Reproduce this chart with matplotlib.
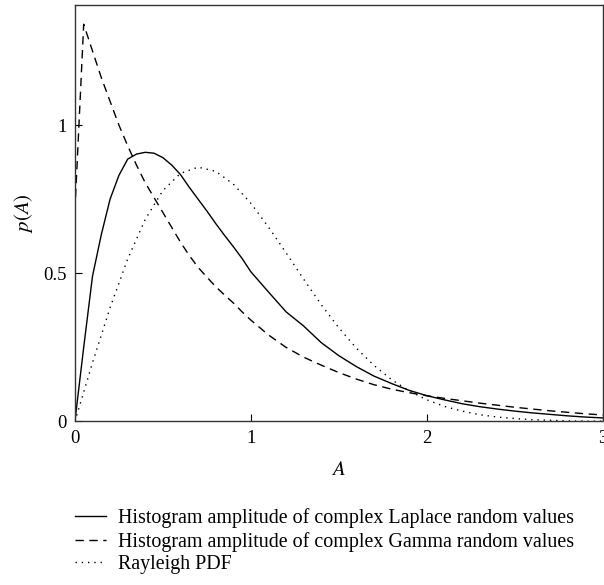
import numpy as np
import matplotlib.pyplot as plt

plt.rcParams["font.family"] = ["Liberation Serif", "DejaVu Serif"]
plt.rcParams["mathtext.fontset"] = "stix"

# Histogram amplitude of complex Laplace random values
laplace_a = [0.0, 0.05, 0.1, 0.15, 0.2, 0.25, 0.3, 0.35, 0.4, 0.45, 0.5, 0.55,
             0.6, 0.65, 0.7, 0.75, 0.8, 0.85, 0.9, 0.95, 1.0, 1.1, 1.2, 1.3,
             1.4, 1.5, 1.6, 1.7, 1.8, 1.9, 2.0, 2.1, 2.2, 2.3, 2.4, 2.5, 2.6,
             2.7, 2.8, 2.9, 3.0]
laplace_p = [0.0, 0.25, 0.49, 0.63, 0.75, 0.83, 0.885, 0.902, 0.908, 0.905,
             0.89, 0.865, 0.833, 0.79, 0.75, 0.71, 0.668, 0.628, 0.59, 0.55,
             0.505, 0.437, 0.37, 0.322, 0.266, 0.222, 0.185, 0.153, 0.128,
             0.105, 0.087, 0.073, 0.06, 0.05, 0.042, 0.035, 0.029, 0.024,
             0.019, 0.015, 0.012]

# Histogram amplitude of complex Gamma random values
gamma_a = laplace_a
gamma_p = [0.71, 1.34, 1.25, 1.16, 1.08, 1.0, 0.93, 0.865, 0.805, 0.755, 0.705,
           0.655, 0.605, 0.56, 0.52, 0.487, 0.455, 0.427, 0.40, 0.37, 0.342,
           0.292, 0.25, 0.217, 0.19, 0.165, 0.143, 0.124, 0.109, 0.097, 0.087,
           0.078, 0.07, 0.062, 0.055, 0.048, 0.042, 0.036, 0.031, 0.026, 0.022]

# Rayleigh PDF
rayleigh_a = [0.0, 0.1, 0.2, 0.3, 0.4, 0.5, 0.6, 0.7, 0.8, 0.9, 1.0, 1.1, 1.2,
              1.3, 1.4, 1.5, 1.6, 1.7, 1.8, 1.9, 2.0, 2.1, 2.2, 2.3, 2.4, 2.5,
              2.6, 2.7, 2.8, 2.9, 3.0]
rayleigh_p = [0.0, 0.198, 0.384, 0.548, 0.682, 0.779, 0.837, 0.858, 0.844,
              0.801, 0.736, 0.656, 0.569, 0.480, 0.394, 0.316, 0.247, 0.189,
              0.141, 0.103, 0.073, 0.051, 0.035, 0.023, 0.015, 0.010, 0.006,
              0.004, 0.002, 0.001, 0.001]

labels = ["Histogram amplitude of complex Laplace random values",
          "Histogram amplitude of complex Gamma random values",
          "Rayleigh PDF"]

fig = plt.figure(figsize=(6.04, 5.85), dpi=100)
ax = fig.add_axes([0.124, 0.2795, 0.874, 0.712])

lw = 1.0
ax.plot(laplace_a, laplace_p, color="black", lw=lw, label=labels[0])
ax.plot(gamma_a, gamma_p, color="black", lw=lw, dashes=(6, 4), label=labels[1])
ax.plot(rayleigh_a, rayleigh_p, color="black", lw=lw, dashes=(1, 3.5), label=labels[2])

ax.set_xlim(0, 3)
ax.set_ylim(0, 1.405)
ax.set_xticks([0, 1, 2, 3])
ax.set_yticks([0, 0.5, 1])
ax.set_yticklabels(["0", "0.5", "1"])
ax.tick_params(direction="in", length=5, width=0.8, labelsize=13.5, pad=6,
               colors="black")
for s in ax.spines.values():
    s.set_linewidth(1.0)
    s.set_color("#333333")

ax.set_xlabel(r"$A$", fontsize=15, labelpad=10)
ax.set_ylabel(r"$p(A)$", fontsize=15, labelpad=6)

fig.legend(loc="upper left", bbox_to_anchor=(0.111, 0.145), ncol=1,
           frameon=False, fontsize=14.4, handlelength=1.55, handletextpad=0.6,
           labelspacing=0.18, borderaxespad=0)

fig.savefig("out.png", dpi=100)
